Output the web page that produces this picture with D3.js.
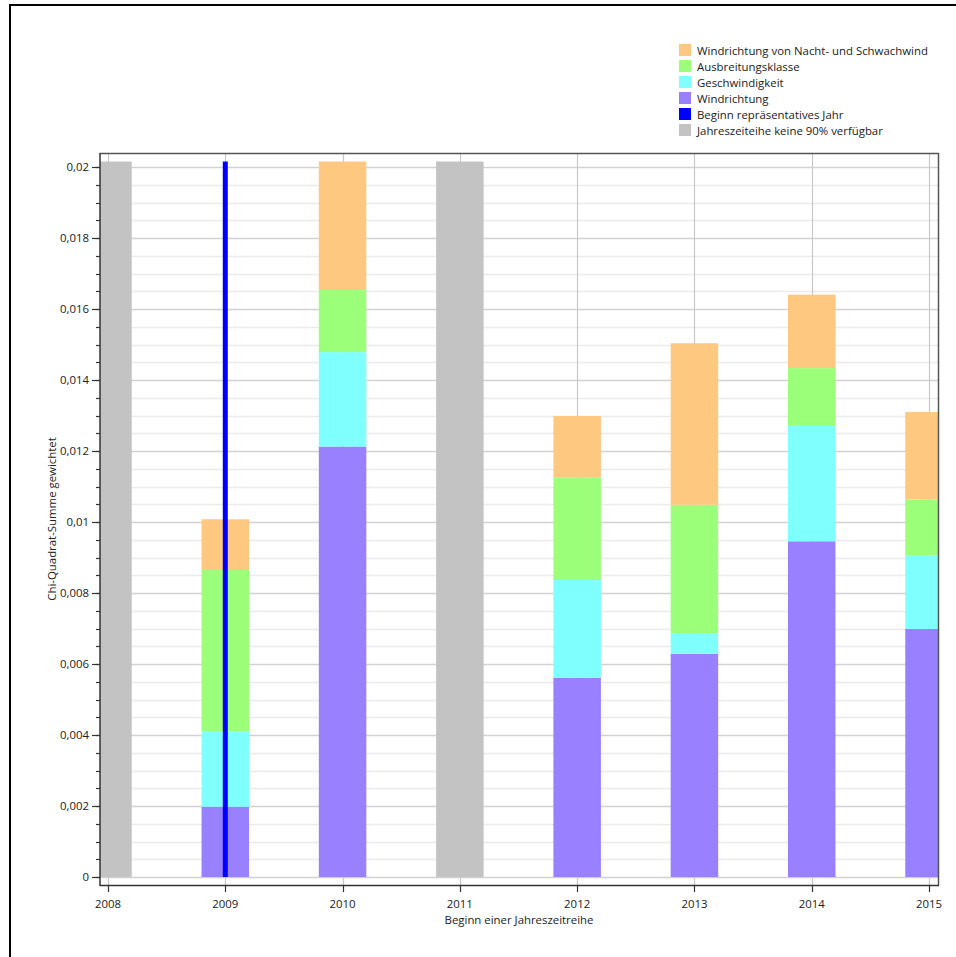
<!DOCTYPE html>
<html>
<head>
<meta charset="utf-8">
<script src="https://cdn.jsdelivr.net/npm/d3@7"></script>
<style>
  html, body { margin: 0; padding: 0; background: #fff; }
  svg { display: block; font-family: "Open Sans", "Noto Sans", sans-serif; }
</style>
</head>
<body>
<svg id="chart" width="956" height="957"></svg>
<script>
// Years on the x axis
const axisYears = [2008, 2009, 2010, 2011, 2012, 2013, 2014, 2015];

// Stacked components per start year
const barYears = [2009, 2010, 2012, 2013, 2014, 2015];
const windrichtung       = [0.00198, 0.01213, 0.00561, 0.00629, 0.00946, 0.00699];
const geschwindigkeit    = [0.00213, 0.00266, 0.00276, 0.00057, 0.00325, 0.00207];
const ausbreitungsklasse = [0.00454, 0.00175, 0.00288, 0.00363, 0.00163, 0.00158];
const nachtSchwachwind   = [0.00143, 0.00362, 0.00174, 0.00455, 0.00207, 0.00246];

// Years without 90% availability (drawn as full-height gray bars)
const unavailableYears = [2008, 2011];
const unavailableValue = 0.02016;

// Start of the representative year
const representativeYear = 2009;
const representativeValue = 0.02016;

// y-axis ticks
const yMajorTicks = [0, 0.002, 0.004, 0.006, 0.008, 0.01, 0.012, 0.014, 0.016, 0.018, 0.02];

const seriesKeys = ["windrichtung", "geschwindigkeit", "ausbreitungsklasse", "nacht"];
const seriesColors = {
  windrichtung: "#9980ff",
  geschwindigkeit: "#80ffff",
  ausbreitungsklasse: "#9bff7a",
  nacht: "#ffc880"
};

const legendItems = [
  { label: "Windrichtung von Nacht- und Schwachwind", color: "#ffc880" },
  { label: "Ausbreitungsklasse", color: "#9bff7a" },
  { label: "Geschwindigkeit", color: "#80ffff" },
  { label: "Windrichtung", color: "#9980ff" },
  { label: "Beginn repräsentatives Jahr", color: "#0000ff" },
  { label: "Jahreszeiteihe keine 90% verfügbar", color: "#c3c3c3" }
];

const FS = 11.4;
const svg = d3.select("#chart");

// Outer frame
svg.append("rect")
  .attr("x", 10).attr("y", 5).attr("width", 960).attr("height", 970)
  .attr("fill", "none").attr("stroke", "#000").attr("stroke-width", 2);

const plot = { left: 100, right: 938, top: 153, bottom: 885 };

const x = d3.scaleLinear().domain([2008, 2015]).range([108, 929]);
const y = d3.scaleLinear().domain([-0.000225, 0.0204]).range([plot.bottom, plot.top]);
const barW = (x(2009) - x(2008)) * 0.405;

svg.append("defs").append("clipPath").attr("id", "plotClip")
  .append("rect")
  .attr("x", plot.left).attr("y", plot.top)
  .attr("width", plot.right - plot.left).attr("height", plot.bottom - plot.top);

const g = svg.append("g");

// Horizontal grid: minor every 0.0005, major every 0.002
const minorTicks = d3.range(0, 0.02041, 0.0005).map(v => +v.toFixed(4));
g.append("g").selectAll("line")
  .data(minorTicks.filter(v => !yMajorTicks.some(m => Math.abs(m - v) < 1e-9)))
  .join("line")
  .attr("x1", plot.left).attr("x2", plot.right)
  .attr("y1", d => Math.round(y(d)) + 0.5).attr("y2", d => Math.round(y(d)) + 0.5)
  .attr("stroke", "#ebebeb").attr("stroke-width", 1.5);
g.append("g").selectAll("line")
  .data(yMajorTicks)
  .join("line")
  .attr("x1", plot.left).attr("x2", plot.right)
  .attr("y1", d => Math.round(y(d)) + 0.5).attr("y2", d => Math.round(y(d)) + 0.5)
  .attr("stroke", "#d2d2d2").attr("stroke-width", 1.5);

// Vertical grid at each year
g.append("g").selectAll("line")
  .data(axisYears)
  .join("line")
  .attr("x1", d => Math.round(x(d)) + 0.5).attr("x2", d => Math.round(x(d)) + 0.5)
  .attr("y1", plot.top).attr("y2", plot.bottom)
  .attr("stroke", "#c8c8c8").attr("stroke-width", 1.2);

const marks = g.append("g").attr("clip-path", "url(#plotClip)");

// Unavailable years
marks.append("g").selectAll("rect")
  .data(unavailableYears)
  .join("rect")
  .attr("x", d => x(d) - barW / 2).attr("width", barW)
  .attr("y", y(unavailableValue)).attr("height", y(0) - y(unavailableValue))
  .attr("fill", "#c3c3c3");

// Stacked bars
const rows = barYears.map((yr, i) => ({
  year: yr,
  windrichtung: windrichtung[i],
  geschwindigkeit: geschwindigkeit[i],
  ausbreitungsklasse: ausbreitungsklasse[i],
  nacht: nachtSchwachwind[i]
}));
const stacked = d3.stack().keys(seriesKeys)(rows);

marks.append("g").selectAll("g")
  .data(stacked)
  .join("g")
  .attr("fill", d => seriesColors[d.key])
  .selectAll("rect")
  .data(d => d)
  .join("rect")
  .attr("x", d => x(d.data.year) - barW / 2).attr("width", barW)
  .attr("y", d => y(d[1])).attr("height", d => y(d[0]) - y(d[1]));

// Representative year marker
marks.append("rect")
  .attr("x", x(representativeYear) - 2.5).attr("width", 5)
  .attr("y", y(representativeValue)).attr("height", y(0) - y(representativeValue))
  .attr("fill", "#0000ff");

// Plot frame (top and right)
svg.append("path")
  .attr("d", `M${plot.left},${plot.top + 0.5}H${plot.right + 0.5}V${plot.bottom}`)
  .attr("fill", "none").attr("stroke", "#555").attr("stroke-width", 1.5);

// y axis
const yAxis = svg.append("g").attr("transform", `translate(${plot.left},0)`);
yAxis.append("line")
  .attr("x1", 0).attr("x2", 0).attr("y1", plot.top).attr("y2", plot.bottom + 1)
  .attr("stroke", "#333").attr("stroke-width", 1.5);
yAxis.selectAll("line.minor")
  .data(minorTicks)
  .join("line").attr("class", "minor")
  .attr("x1", -4).attr("x2", 0)
  .attr("y1", d => Math.round(y(d)) + 0.5).attr("y2", d => Math.round(y(d)) + 0.5)
  .attr("stroke", "#333").attr("stroke-width", 1.2);
yAxis.selectAll("line.major")
  .data(yMajorTicks)
  .join("line").attr("class", "major")
  .attr("x1", -8).attr("x2", 0)
  .attr("y1", d => Math.round(y(d)) + 0.5).attr("y2", d => Math.round(y(d)) + 0.5)
  .attr("stroke", "#333").attr("stroke-width", 1.2);
const fmt = v => String(+v.toFixed(4)).replace(".", ",");
yAxis.selectAll("text")
  .data(yMajorTicks)
  .join("text")
  .attr("x", -11).attr("y", d => y(d)).attr("dy", "0.35em")
  .attr("text-anchor", "end").attr("font-size", FS).attr("fill", "#222")
  .text(fmt);

// x axis
const xAxis = svg.append("g").attr("transform", `translate(0,${plot.bottom})`);
xAxis.append("line")
  .attr("x1", plot.left).attr("x2", plot.right + 1).attr("y1", 0.5).attr("y2", 0.5)
  .attr("stroke", "#333").attr("stroke-width", 1.5);
xAxis.selectAll("line.tick")
  .data(axisYears)
  .join("line").attr("class", "tick")
  .attr("x1", d => Math.round(x(d)) + 0.5).attr("x2", d => Math.round(x(d)) + 0.5)
  .attr("y1", 0).attr("y2", 7)
  .attr("stroke", "#333").attr("stroke-width", 1.2);
xAxis.selectAll("text")
  .data(axisYears)
  .join("text")
  .attr("x", d => x(d)).attr("y", 19.5).attr("dy", "0.35em")
  .attr("text-anchor", "middle").attr("font-size", FS).attr("fill", "#222")
  .text(d => d);

// Axis titles
svg.append("text")
  .attr("x", (plot.left + plot.right) / 2).attr("y", 920.5).attr("dy", "0.35em")
  .attr("text-anchor", "middle").attr("font-size", FS).attr("fill", "#222")
  .text("Beginn einer Jahreszeitreihe");
svg.append("text")
  .attr("transform", `translate(52,${(plot.top + plot.bottom) / 2}) rotate(-90)`)
  .attr("dy", "0.35em")
  .attr("text-anchor", "middle").attr("font-size", FS).attr("fill", "#222")
  .text("Chi-Quadrat-Summe gewichtet");

// Legend
const legend = svg.append("g").attr("transform", "translate(679,44)");
const li = legend.selectAll("g")
  .data(legendItems)
  .join("g")
  .attr("transform", (d, i) => `translate(0,${i * 16})`);
li.append("rect").attr("width", 12).attr("height", 12).attr("fill", d => d.color);
li.append("text")
  .attr("x", 18).attr("y", 6.5).attr("dy", "0.35em")
  .attr("font-size", FS).attr("fill", "#222")
  .text(d => d.label);
</script>
</body>
</html>
